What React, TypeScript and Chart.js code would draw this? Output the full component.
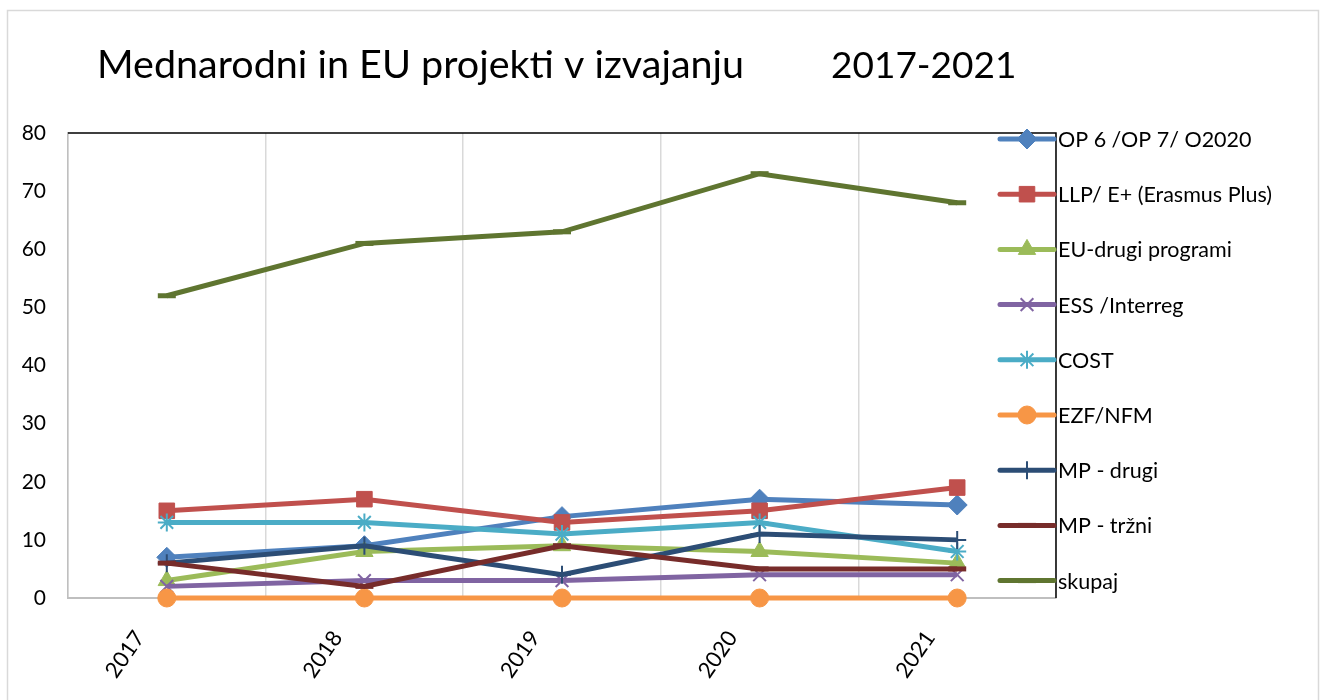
import React, { useEffect, useRef } from 'react';
import { Chart, registerables } from 'chart.js';
import { drawPoint } from 'chart.js/helpers';

Chart.register(...registerables);

const titleMain = 'Mednarodni in EU projekti v izvajanju';
const titleYears = '2017-2021';

const years = ['2017', '2018', '2019', '2020', '2021'];
const yTicks = [0, 10, 20, 30, 40, 50, 60, 70, 80];

const seriesNames = [
  'OP 6 /OP 7/ O2020',
  'LLP/ E+ (Erasmus Plus)',
  'EU-drugi programi',
  'ESS /Interreg',
  'COST',
  'EZF/NFM',
  'MP - drugi',
  'MP - tržni',
  'skupaj',
];

const opValues = [7, 9, 14, 17, 16];
const llpValues = [15, 17, 13, 15, 19];
const euOtherValues = [3, 8, 9, 8, 6];
const essValues = [2, 3, 3, 4, 4];
const costValues = [13, 13, 11, 13, 8];
const ezfValues = [0, 0, 0, 0, 0];
const mpOtherValues = [6, 9, 4, 11, 10];
const mpMarketValues = [6, 2, 9, 5, 5];
const totalValues = [52, 61, 63, 73, 68];

const seriesValues = [
  opValues,
  llpValues,
  euOtherValues,
  essValues,
  costValues,
  ezfValues,
  mpOtherValues,
  mpMarketValues,
  totalValues,
];

const colors = ['#4F81BD', '#C0504D', '#9BBB59', '#8064A2', '#4BACC6', '#F79646', '#2C4D75', '#772C2A', '#5F7530'];
const pointStyles = ['rectRot', 'rect', 'triangle', 'crossRot', 'star', 'circle', 'cross', 'line', 'line'];
const pointRadii = [10, 11, 10, 9, 9, 9, 9, 9, 9];
const pointBorders = [1, 1, 1, 2, 2, 1, 2, 5, 5];

const FONT = 'Lato, "Open Sans", sans-serif';

const decorPlugin = {
  id: 'decor',
  beforeDraw(chart: any) {
    const ctx = chart.ctx;
    ctx.save();
    ctx.fillStyle = '#ffffff';
    ctx.fillRect(0, 0, chart.width, chart.height);
    ctx.strokeStyle = '#D9D9D9';
    ctx.lineWidth = 1.5;
    ctx.strokeRect(7.5, 10.5, 1311, 720);
    ctx.fillStyle = '#000000';
    ctx.font = `39.5px ${FONT}`;
    ctx.textBaseline = 'alphabetic';
    ctx.textAlign = 'left';
    ctx.fillText(titleMain, 97, 78);
    ctx.font = `37px ${FONT}`;
    ctx.fillText(titleYears, 831, 78);
    ctx.restore();
  },
  afterDraw(chart: any) {
    const ctx = chart.ctx;
    const a = chart.chartArea;
    ctx.save();
    ctx.strokeStyle = '#000000';
    ctx.lineWidth = 1.5;
    ctx.beginPath();
    ctx.moveTo(a.left, a.top);
    ctx.lineTo(a.right, a.top);
    ctx.lineTo(a.right, a.bottom);
    ctx.stroke();

    // legend
    const x0 = 1000;
    const x1 = 1054;
    const startY = 139;
    const step = 55.2;
    seriesNames.forEach((name, i) => {
      const y = startY + i * step;
      ctx.strokeStyle = colors[i];
      ctx.fillStyle = colors[i];
      ctx.lineWidth = 5;
      ctx.lineCap = 'round';
      ctx.beginPath();
      ctx.moveTo(x0, y);
      ctx.lineTo(x1, y);
      ctx.stroke();
      ctx.lineCap = 'butt';
      ctx.lineWidth = pointBorders[i];
      drawPoint(ctx, { pointStyle: pointStyles[i], radius: pointRadii[i], rotation: 0, borderWidth: pointBorders[i] } as any, (x0 + x1) / 2, y);
      ctx.fillStyle = '#000000';
      ctx.font = `21.5px ${FONT}`;
      ctx.textBaseline = 'middle';
      ctx.textAlign = 'left';
      ctx.fillText(name, 1058, y + 1);
    });
    ctx.restore();
  },
};

export default function App() {
  const canvasRef = useRef<HTMLCanvasElement | null>(null);

  useEffect(() => {
    if (!canvasRef.current) return;
    const datasets = seriesNames.map((name, i) => ({
      label: name,
      data: seriesValues[i],
      borderColor: colors[i],
      backgroundColor: colors[i],
      borderWidth: 5,
      pointStyle: pointStyles[i],
      pointRadius: pointRadii[i],
      pointHoverRadius: pointRadii[i],
      pointBorderWidth: pointBorders[i],
      pointBorderColor: colors[i],
      pointBackgroundColor: colors[i],
      tension: 0,
      order: -i,
      clip: false as any,
    }));

    const chart = new Chart(canvasRef.current, {
      type: 'line',
      data: { labels: years, datasets },
      plugins: [decorPlugin],
      options: {
        responsive: false,
        animation: false,
        events: [],
        layout: { padding: { top: 133, right: 266, left: 0, bottom: 0 } },
        plugins: {
          legend: { display: false },
          title: { display: false },
          tooltip: { enabled: false },
        },
        scales: {
          x: {
            type: 'category',
            offset: true,
            grid: { offset: true, color: '#D9D9D9', lineWidth: 1.5, drawTicks: false },
            border: { display: true, color: '#BFBFBF', width: 2 },
            ticks: {
              color: '#000000',
              font: { family: FONT, size: 22 },
              minRotation: 55,
              maxRotation: 55,
              padding: 28,
              labelOffset: -27,
            },
            afterFit(scale: any) {
              scale.height = 102;
            },
          },
          y: {
            min: 0,
            max: 80,
            afterBuildTicks(scale: any) {
              scale.ticks = yTicks.map((v) => ({ value: v }));
            },
            grid: { display: false, drawTicks: false },
            border: { display: true, color: '#BFBFBF', width: 1.5 },
            ticks: {
              color: '#000000',
              font: { family: FONT, size: 21 },
              padding: 22,
            },
            afterFit(scale: any) {
              scale.width = 68;
            },
          },
        },
      },
    });
    return () => chart.destroy();
  }, []);

  return (
    <div style={{ position: 'fixed', left: 0, top: 0, width: 1322, height: 700, background: '#fff' }}>
      <canvas ref={canvasRef} width={1322} height={700} style={{ display: 'block', width: 1322, height: 700 }} />
    </div>
  );
}
